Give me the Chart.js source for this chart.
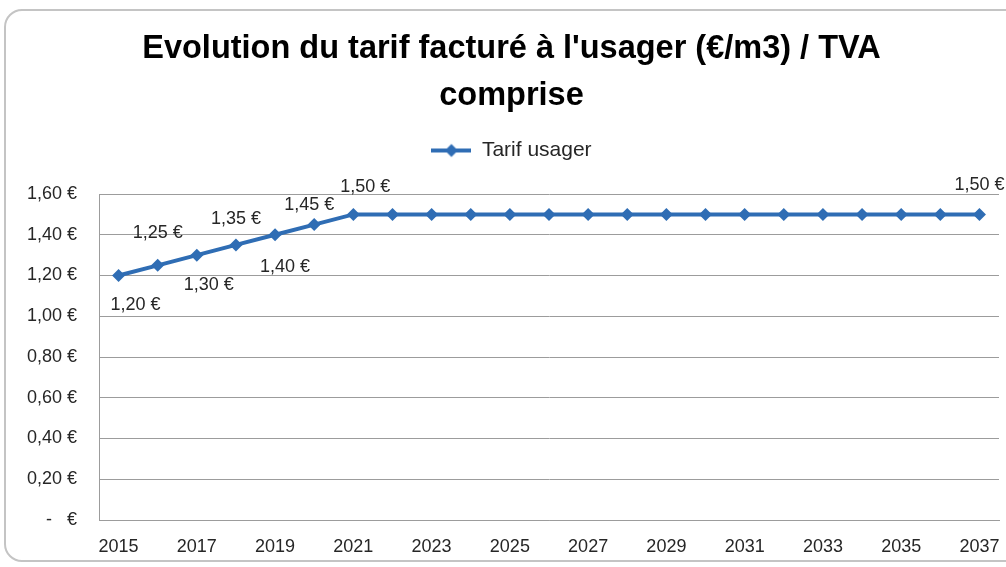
<!DOCTYPE html>
<html>
<head>
<meta charset="utf-8">
<script src="https://cdn.jsdelivr.net/npm/chart.js@4"></script>
<style>
  html, body { margin: 0; padding: 0; background: #fff; }
  body { width: 1006px; height: 567px; position: relative; overflow: hidden; }
  #frame { position: absolute; left: 4px; top: 9px; width: 1030px; height: 553px;
           border: 2px solid #c4c4c4; border-radius: 18px; box-sizing: border-box; }
  #wrap { position: absolute; left: 0; top: 0; width: 1006px; height: 567px; }
</style>
</head>
<body>
<div id="frame"></div>
<div id="wrap"><canvas id="c" width="1006" height="567"></canvas></div>
<script>
// ---- data ----
const years = ['2015','2016','2017','2018','2019','2020','2021','2022','2023','2024','2025','2026',
               '2027','2028','2029','2030','2031','2032','2033','2034','2035','2036','2037'];
const tarifUsager = [1.20,1.25,1.30,1.35,1.40,1.45,1.50,1.50,1.50,1.50,1.50,1.50,
                     1.50,1.50,1.50,1.50,1.50,1.50,1.50,1.50,1.50,1.50,1.50];
const seriesName = 'Tarif usager';
const titleLines = ["Evolution du tarif facturé à l'usager (€/m3) / TVA", 'comprise'];
const yTicks = [0, 0.2, 0.4, 0.6, 0.8, 1.0, 1.2, 1.4, 1.6];

// ---- styling ----
const FONT = "'Liberation Sans', Arial, sans-serif";
const BLUE = '#2f6db4';
const GRID = '#9c9c9c';
const TEXT = '#262626';

function euro(v) {
  if (Math.abs(v) < 1e-9) return '-   €';
  return v.toFixed(2).replace('.', ',') + ' €';
}

// legend symbol: line with diamond
const sym = document.createElement('canvas');
sym.width = 40; sym.height = 16;
(function () {
  const g = sym.getContext('2d');
  g.strokeStyle = BLUE; g.lineWidth = 4;
  g.beginPath(); g.moveTo(0, 8); g.lineTo(40, 8); g.stroke();
  g.fillStyle = BLUE;
  g.beginPath(); g.moveTo(20, 1.5); g.lineTo(26.5, 8); g.lineTo(20, 14.5); g.lineTo(13.5, 8); g.closePath(); g.fill();
})();

// data label plugin (positions relative to each point, set in options)
const pointLabels = {
  id: 'pointLabels',
  afterDatasetsDraw(chart, args, opts) {
    const ctx = chart.ctx;
    const meta = chart.getDatasetMeta(0);
    const ds = chart.data.datasets[0].data;
    ctx.save();
    ctx.font = opts.font;
    ctx.fillStyle = opts.color;
    ctx.textAlign = 'center';
    ctx.textBaseline = 'middle';
    opts.items.forEach(it => {
      const p = meta.data[it.i];
      ctx.fillText(euro(ds[it.i]), p.x + it.dx, p.y + it.dy);
    });
    ctx.restore();
  }
};

new Chart(document.getElementById('c'), {
  type: 'line',
  data: {
    labels: years,
    datasets: [{
      label: seriesName,
      data: tarifUsager,
      borderColor: BLUE,
      backgroundColor: BLUE,
      borderWidth: 4,
      pointStyle: 'rectRot',
      pointRadius: 6.5,
      pointBorderWidth: 0,
      pointBackgroundColor: BLUE,
      tension: 0,
      fill: false
    }]
  },
  plugins: [pointLabels],
  options: {
    responsive: false,
    animation: false,
    events: [],
    layout: { padding: { top: 10, left: 24, right: 7, bottom: 9 } },
    plugins: {
      tooltip: { enabled: false },
      title: {
        display: true,
        text: titleLines,
        color: '#000',
        font: { family: FONT, size: 32.5, weight: 'bold', lineHeight: 47 / 32.5 },
        padding: { top: 16, bottom: 10 }
      },
      subtitle: {
        display: true,
        text: '',
        weight: 500,
        font: { size: 1, lineHeight: 1 },
        padding: { top: 22, bottom: 0 }
      },
      legend: {
        display: true,
        position: 'top',
        labels: {
          color: TEXT,
          font: { family: FONT, size: 21 },
          usePointStyle: true,
          pointStyle: sym,
          pointStyleWidth: 40,
          padding: 10
        }
      },
      pointLabels: {
        font: '18px ' + FONT,
        color: TEXT,
        items: [
          { i: 0, dx: 17, dy: 30 },
          { i: 1, dx: 0, dy: -32 },
          { i: 2, dx: 12, dy: 30 },
          { i: 3, dx: 0, dy: -26 },
          { i: 4, dx: 10, dy: 32 },
          { i: 5, dx: -5, dy: -20 },
          { i: 6, dx: 12, dy: -27 },
          { i: 22, dx: 0, dy: -29 }
        ]
      }
    },
    scales: {
      x: {
        offset: true,
        afterFit: function (axis) { axis.paddingLeft = 0; axis.paddingRight = 0; axis.height = 38; },
        grid: { display: false, drawTicks: false },
        border: { display: true, color: GRID, width: 1 },
        ticks: {
          autoSkip: false,
          maxRotation: 0,
          padding: 16,
          color: TEXT,
          font: { family: FONT, size: 18 },
          callback: function (v, i) { return i % 2 === 0 ? years[i] : ''; }
        }
      },
      y: {
        min: 0,
        max: 1.6,
        afterBuildTicks: function (axis) { axis.ticks = yTicks.map(v => ({ value: v })); },
        afterFit: function (axis) { axis.width = 75; },
        grid: { color: GRID, lineWidth: 1, drawTicks: false },
        border: { display: true, color: GRID, width: 1 },
        ticks: {
          padding: 22,
          color: TEXT,
          font: { family: FONT, size: 18 },
          callback: function (v) { return euro(v); }
        }
      }
    }
  }
});
</script>
</body>
</html>
